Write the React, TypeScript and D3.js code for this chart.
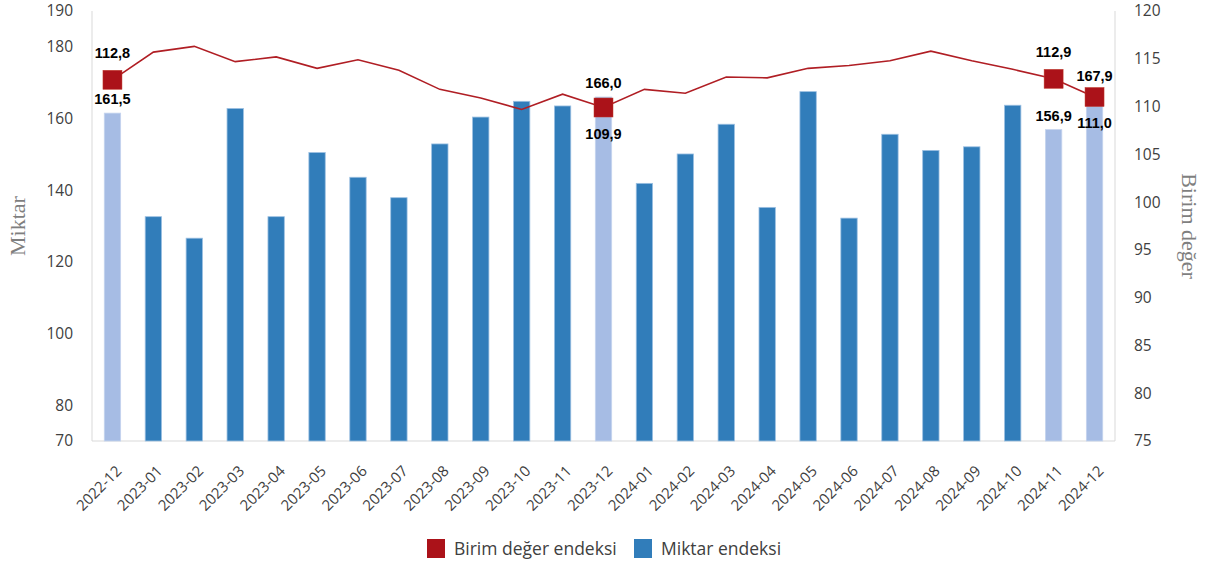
import React from "react";
import * as d3 from "d3";

const categories = [
  "2022-12", "2023-01", "2023-02", "2023-03", "2023-04", "2023-05", "2023-06",
  "2023-07", "2023-08", "2023-09", "2023-10", "2023-11", "2023-12", "2024-01",
  "2024-02", "2024-03", "2024-04", "2024-05", "2024-06", "2024-07", "2024-08",
  "2024-09", "2024-10", "2024-11", "2024-12",
];
const miktar = [
  161.5, 132.6, 126.6, 162.8, 132.6, 150.5, 143.6, 137.9, 152.9, 160.4, 164.8,
  163.5, 166.0, 141.9, 150.1, 158.4, 135.2, 167.5, 132.2, 155.6, 151.1, 152.1,
  163.7, 156.9, 167.9,
];
const birimDeger = [
  112.8, 115.7, 116.3, 114.7, 115.2, 114.0, 114.9, 113.8, 111.8, 110.9, 109.7,
  111.3, 109.9, 111.8, 111.4, 113.1, 113.0, 114.0, 114.3, 114.8, 115.8, 114.8,
  113.9, 112.9, 111.0,
];
const highlighted = ["2022-12", "2023-12", "2024-11", "2024-12"];
const leftTicks = [70, 80, 100, 120, 140, 160, 180, 190];
const rightTicks = [75, 80, 85, 90, 95, 100, 105, 110, 115, 120];
const lineLabelBelow = ["2023-12", "2024-12"];

const W = 1207;
const H = 567;
const M = { left: 92, right: 1115, top: 11, bottom: 441 };

const fmt = (v: number) => v.toFixed(1).replace(".", ",");

export default function App() {
  const x = d3.scaleBand<string>().domain(categories).range([M.left, M.right]).paddingInner(0).paddingOuter(0);
  const yL = d3.scaleLinear().domain([70, 190]).range([M.bottom, M.top]);
  const yR = d3.scaleLinear().domain([75, 120]).range([M.bottom, M.top]);
  const bw = x.bandwidth() * 0.4;
  const cx = (c: string) => (x(c) as number) + x.bandwidth() / 2;

  const line = d3
    .line<number>()
    .x((_, i) => cx(categories[i]))
    .y((d) => yR(d));

  const tickFont = "'Open Sans', 'Noto Sans', sans-serif";
  const labelFont = "'Liberation Sans', Arial, sans-serif";
  const axisColor = "#d9d9d9";
  const darkBlue = "#317dba";
  const lightBlue = "#a6bce4";
  const red = "#b01e24";
  const markerRed = "#ab1219";

  return (
    <svg
      width={W}
      height={H}
      style={{ position: "absolute", left: 0, top: 0, background: "#fff" }}
    >
      {/* axis lines */}
      <line x1={M.left} x2={M.left} y1={M.top} y2={M.bottom} stroke={axisColor} />
      <line x1={M.right} x2={M.right} y1={M.top} y2={M.bottom} stroke={axisColor} />
      <line x1={M.left} x2={M.right} y1={M.bottom} y2={M.bottom} stroke={axisColor} />

      {/* left ticks */}
      {leftTicks.map((t) => (
        <text
          key={"l" + t}
          x={73}
          y={yL(t)}
          dy="0.35em"
          textAnchor="end"
          fontFamily={tickFont}
          fontSize={15.5}
          fill="#404040"
        >
          {t}
        </text>
      ))}
      {/* right ticks */}
      {rightTicks.map((t) => (
        <text
          key={"r" + t}
          x={1134}
          y={yR(t)}
          dy="0.35em"
          textAnchor="start"
          fontFamily={tickFont}
          fontSize={15.5}
          fill="#404040"
        >
          {t}
        </text>
      ))}

      {/* axis titles */}
      <text
        transform={`translate(25,226) rotate(-90)`}
        textAnchor="middle"
        fontFamily="'Liberation Serif', 'Times New Roman', serif"
        fontSize={22}
        fill="#7f7f7f"
      >
        Miktar
      </text>
      <text
        transform={`translate(1182,226) rotate(90)`}
        textAnchor="middle"
        fontFamily="'Liberation Serif', 'Times New Roman', serif"
        fontSize={22}
        fill="#7f7f7f"
      >
        Birim değer
      </text>

      {/* bars */}
      {categories.map((c, i) => (
        <rect
          key={"b" + c}
          x={cx(c) - bw / 2}
          y={yL(miktar[i])}
          width={bw}
          height={M.bottom - yL(miktar[i])}
          fill={highlighted.includes(c) ? lightBlue : darkBlue}
          stroke={highlighted.includes(c) ? "#c5d4ee" : "#9cc0e2"}
          strokeWidth={0.8}
        />
      ))}

      {/* line */}
      <path d={line(birimDeger) || ""} fill="none" stroke={red} strokeWidth={1.6} />

      {/* markers */}
      {categories.map((c, i) =>
        highlighted.includes(c) ? (
          <rect
            key={"m" + c}
            x={cx(c) - 9.5}
            y={yR(birimDeger[i]) - 9.5}
            width={19}
            height={19}
            fill={markerRed}
            stroke="#c0392b"
            strokeWidth={0.5}
          />
        ) : null
      )}

      {/* data labels */}
      {categories.map((c, i) =>
        highlighted.includes(c) ? (
          <g key={"lab" + c} fontFamily={labelFont} fontWeight="bold" fontSize={14.5} fill="#000">
            <text x={cx(c)} y={yL(miktar[i]) - 9} textAnchor="middle">
              {fmt(miktar[i])}
            </text>
            <text
              x={cx(c)}
              y={lineLabelBelow.includes(c) ? yR(birimDeger[i]) + 31 : yR(birimDeger[i]) - 22}
              textAnchor="middle"
            >
              {fmt(birimDeger[i])}
            </text>
          </g>
        ) : null
      )}

      {/* x labels */}
      {categories.map((c) => (
        <text
          key={"x" + c}
          transform={`translate(${cx(c) + 10},${M.bottom + 31}) rotate(-45)`}
          textAnchor="end"
          fontFamily={tickFont}
          fontSize={15}
          fill="#404040"
        >
          {c}
        </text>
      ))}

      {/* legend */}
      <rect x={427} y={539} width={18} height={19} fill={markerRed} />
      <text x={454} y={555} fontFamily={tickFont} fontSize={17.5} fill="#404040">
        Birim değer endeksi
      </text>
      <rect x={634} y={539} width={18} height={19} fill={darkBlue} />
      <text x={661} y={555} fontFamily={tickFont} fontSize={17.5} fill="#404040">
        Miktar endeksi
      </text>
    </svg>
  );
}
